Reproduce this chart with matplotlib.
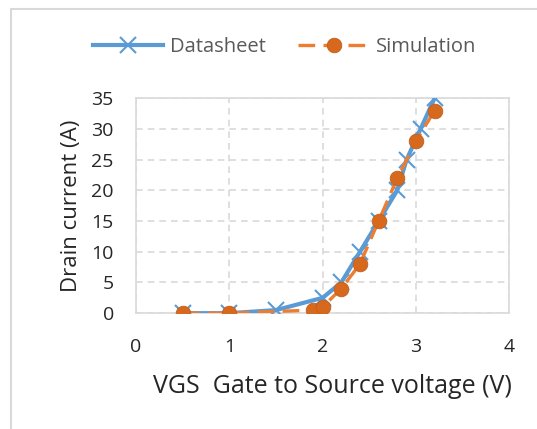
import matplotlib.pyplot as plt
from matplotlib.patches import Rectangle

# datasheet transfer curve
vgs_datasheet = [0.5, 1.0, 1.5, 2.0, 2.2, 2.4, 2.6, 2.8, 2.9, 3.05, 3.2]
id_datasheet = [0, 0, 0.5, 2.5, 5, 10, 15, 20, 25, 30, 35]

# simulated curve
vgs_sim = [0.5, 1.0, 1.9, 2.0, 2.2, 2.4, 2.6, 2.8, 3.0, 3.2]
id_sim = [0, 0, 0.5, 1.0, 4, 8, 15, 22, 28, 33]

x_ticks = [0, 1, 2, 3, 4]
y_ticks = [0, 5, 10, 15, 20, 25, 30, 35]

blue = "#5B9BD5"
orange = "#ED7D31"
plt.rcParams["font.family"] = ["Open Sans", "DejaVu Sans"]

fig = plt.figure(figsize=(5.37, 4.29), dpi=100)
ax = fig.add_axes([0.2533, 0.270, 0.695, 0.501])

ax.plot(vgs_datasheet, id_datasheet, color=blue, lw=3, marker="x",
        markersize=11, markeredgewidth=1.5, label="Datasheet", zorder=3)
ax.plot(vgs_sim, id_sim, color=orange, lw=2.4, ls=(0, (5, 2.5)), marker="o",
        markersize=10.5, markerfacecolor="#D6691E", markeredgecolor="#C25F1B",
        markeredgewidth=0.6, label="Simulation", zorder=4)

ax.set_xlim(0, 4)
ax.set_ylim(0, 35)
ax.set_xticks(x_ticks)
ax.set_yticks(y_ticks)
ax.grid(True, color="#D9D9D9", ls=(0, (4, 3)), lw=1.2)
ax.set_axisbelow(True)
for s in ax.spines.values():
    s.set_color("#D9D9D9")
    s.set_linewidth(1.2)
ax.tick_params(length=0, labelsize=14, colors="#262626")
ax.tick_params(axis="x", pad=18)
ax.tick_params(axis="y", pad=16)

ax.set_ylabel("Drain current (A)", fontsize=16, color="#262626")
ax.yaxis.set_label_coords(-0.145, 0.5)
ax.set_xlabel("VGS  Gate to Source voltage (V)", fontsize=18, color="#262626")
ax.xaxis.set_label_coords(0.525, -0.285)

leg = fig.legend(loc="center", bbox_to_anchor=(0.53, 0.89), ncol=2, frameon=False,
                 fontsize=14.5, handlelength=3.5, columnspacing=1.6, handletextpad=0.35)
for t in leg.get_texts():
    t.set_color("#595959")

fig.patches.append(Rectangle((0.021, -0.01), 1.0, 0.99, transform=fig.transFigure,
                             fill=False, edgecolor="#D9D9D9", lw=1.5))

fig.savefig("out.png", dpi=100)
